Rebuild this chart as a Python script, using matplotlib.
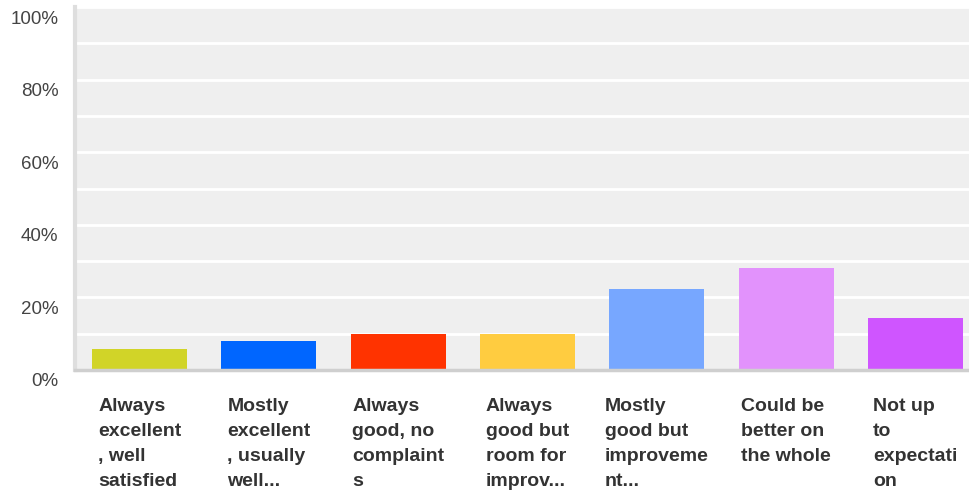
"""
   Survey bar chart: satisfaction responses as percentages
"""

import matplotlib.pyplot as plt
from matplotlib.transforms import ScaledTranslation

categories = ["Always\nexcellent\n, well\nsatisfied",
              "Mostly\nexcellent\n, usually\nwell...",
              "Always\ngood, no\ncomplaint\ns",
              "Always\ngood but\nroom for\nimprov...",
              "Mostly\ngood but\nimproveme\nnt...",
              "Could be\nbetter on\nthe whole",
              "Not up\nto\nexpectati\non"]
percent = [5.7, 7.9, 9.8, 9.8, 22.2, 28.2, 14.2]
colours = ["#d1d428", "#0066ff", "#ff3300", "#ffcc40",
           "#77a7ff", "#e292fc", "#cf55ff"]
ytick_vals = [0, 20, 40, 60, 80, 100]
ytick_labels = ["0%", "20%", "40%", "60%", "80%", "100%"]

plt.rcParams['font.family'] = ['Liberation Sans', 'DejaVu Sans']

def main():
    fig = plt.figure(figsize=(9.69, 4.91), dpi=100)
    W, H = 969, 491
    ax = fig.add_axes([75 / W, 121 / H, (W - 75) / W, 363 / H])
    ax.set_facecolor("#efefef")

    #      Gridlines every 10%, white
    for g in range(10, 101, 10):
        ax.axhline(g, color="white", lw=2, zorder=1)

    x = list(range(len(categories)))
    ax.bar(x, percent, width=0.735, color=colours, zorder=2)

    ax.set_xlim(-0.5, 6.415)
    ax.set_ylim(0, 100)

    ax.set_yticks(ytick_vals)
    ax.set_yticklabels(ytick_labels, fontsize=13.5, color="#444444")
    ax.set_xticks(x)
    ax.set_xticklabels(categories, fontsize=14, fontweight="bold",
                       color="#333333", linespacing=1.62,
                       multialignment="left", va="top")
    ax.tick_params(axis="y", length=0, pad=12)
    ax.tick_params(axis="x", length=0, pad=20)

    #      Y labels sit a little below their gridlines
    off = ScaledTranslation(0, -10 / 100, fig.dpi_scale_trans)
    for lab in ax.get_yticklabels():
        lab.set_transform(lab.get_transform() + off)

    for s in ["top", "right"]:
        ax.spines[s].set_visible(False)
    ax.spines["left"].set_color("#dedede")
    ax.spines["left"].set_linewidth(3)
    ax.spines["bottom"].set_color("#cfcfcf")
    ax.spines["bottom"].set_linewidth(2.5)

    fig.savefig("out.png", dpi=100, facecolor="white")

main()
